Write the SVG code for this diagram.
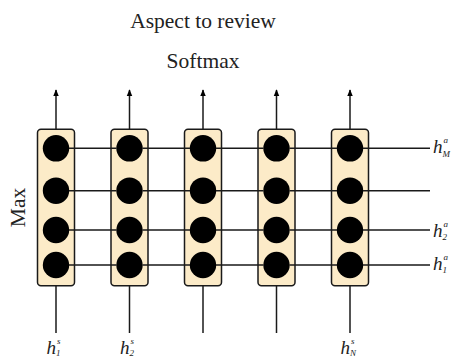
<svg xmlns="http://www.w3.org/2000/svg" width="454" height="358" viewBox="0 0 454 358">
<style>
  .box { fill: #fcebc8; stroke: #1a1a1a; stroke-width: 1.5; }
  .dot { fill: #000; }
  .ln { stroke: #1a1a1a; stroke-width: 1.5; fill: none; }
  .title { font-family: "Liberation Serif", "Times New Roman", serif; font-size: 21.5px; fill: #222; text-anchor: middle; }
  .h { font-family: "Liberation Serif", "Times New Roman", serif; font-style: italic; font-size: 19px; fill: #222; }
  .s { font-family: "Liberation Serif", "Times New Roman", serif; font-style: italic; font-size: 9px; fill: #222; }
</style>
<defs>
  <marker id="arr" viewBox="0 0 8 8" refX="7" refY="4" markerWidth="7" markerHeight="7" markerUnits="userSpaceOnUse" orient="auto">
    <path d="M0,0.8 L8,4 L0,7.2 Z" fill="#000"/>
  </marker>
</defs>

<text class="title" x="203" y="28.3">Aspect to review</text>
<text class="title" x="203" y="68.3">Softmax</text>
<text class="title" transform="translate(25,207.5) rotate(-90)" x="0" y="0">Max</text>

<g id="col1">
  <rect class="box" x="37.5" y="129.3" width="37" height="156.4" rx="3.5"/>
  <circle class="dot" cx="56" cy="148.3" r="13.2"/>
  <circle class="dot" cx="56" cy="190.7" r="13.2"/>
  <circle class="dot" cx="56" cy="230" r="13.2"/>
  <circle class="dot" cx="56" cy="265" r="13.2"/>
</g>
<g id="col2">
  <rect class="box" x="111" y="129.3" width="37" height="156.4" rx="3.5"/>
  <circle class="dot" cx="129.5" cy="148.3" r="13.2"/>
  <circle class="dot" cx="129.5" cy="190.7" r="13.2"/>
  <circle class="dot" cx="129.5" cy="230" r="13.2"/>
  <circle class="dot" cx="129.5" cy="265" r="13.2"/>
</g>
<g id="col3">
  <rect class="box" x="184.5" y="129.3" width="37" height="156.4" rx="3.5"/>
  <circle class="dot" cx="203" cy="148.3" r="13.2"/>
  <circle class="dot" cx="203" cy="190.7" r="13.2"/>
  <circle class="dot" cx="203" cy="230" r="13.2"/>
  <circle class="dot" cx="203" cy="265" r="13.2"/>
</g>
<g id="col4">
  <rect class="box" x="258" y="129.3" width="37" height="156.4" rx="3.5"/>
  <circle class="dot" cx="276.5" cy="148.3" r="13.2"/>
  <circle class="dot" cx="276.5" cy="190.7" r="13.2"/>
  <circle class="dot" cx="276.5" cy="230" r="13.2"/>
  <circle class="dot" cx="276.5" cy="265" r="13.2"/>
</g>
<g id="col5">
  <rect class="box" x="331.5" y="129.3" width="37" height="156.4" rx="3.5"/>
  <circle class="dot" cx="350" cy="148.3" r="13.2"/>
  <circle class="dot" cx="350" cy="190.7" r="13.2"/>
  <circle class="dot" cx="350" cy="230" r="13.2"/>
  <circle class="dot" cx="350" cy="265" r="13.2"/>
</g>

<g id="connectors">
  <path class="ln" d="M69 148.3H116.5M142.5 148.3H190M216 148.3H263.5M289.5 148.3H337M363 148.3H430"/>
  <path class="ln" d="M69 190.7H116.5M142.5 190.7H190M216 190.7H263.5M289.5 190.7H337M363 190.7H430"/>
  <path class="ln" d="M69 230H116.5M142.5 230H190M216 230H263.5M289.5 230H337M363 230H430"/>
  <path class="ln" d="M69 265H116.5M142.5 265H190M216 265H263.5M289.5 265H337M363 265H430"/>
  <path class="ln" d="M56 129.3V90" marker-end="url(#arr)"/>
  <path class="ln" d="M129.5 129.3V90" marker-end="url(#arr)"/>
  <path class="ln" d="M203 129.3V90" marker-end="url(#arr)"/>
  <path class="ln" d="M276.5 129.3V90" marker-end="url(#arr)"/>
  <path class="ln" d="M350 129.3V90" marker-end="url(#arr)"/>
  <path class="ln" d="M56 285.7V333"/>
  <path class="ln" d="M129.5 285.7V333"/>
  <path class="ln" d="M203 285.7V333"/>
  <path class="ln" d="M276.5 285.7V333"/>
  <path class="ln" d="M350 285.7V333"/>
</g>

<g id="labels">
  <text class="h" x="433" y="153.3">h</text><text class="s" x="443.5" y="143">a</text><text class="s" x="442.5" y="156.5">M</text>
  <text class="h" x="433" y="237.3">h</text><text class="s" x="443.5" y="227">a</text><text class="s" x="442.5" y="240">2</text>
  <text class="h" x="433" y="270">h</text><text class="s" x="443.5" y="259.7">a</text><text class="s" x="442.5" y="273">1</text>
  <text class="h" x="46.5" y="354">h</text><text class="s" x="57" y="344">s</text><text class="s" x="56" y="355.5">1</text>
  <text class="h" x="120" y="354">h</text><text class="s" x="130.5" y="344">s</text><text class="s" x="129.5" y="355.5">2</text>
  <text class="h" x="340.5" y="354">h</text><text class="s" x="351" y="344">s</text><text class="s" x="350" y="355.5">N</text>
</g>
</svg>
